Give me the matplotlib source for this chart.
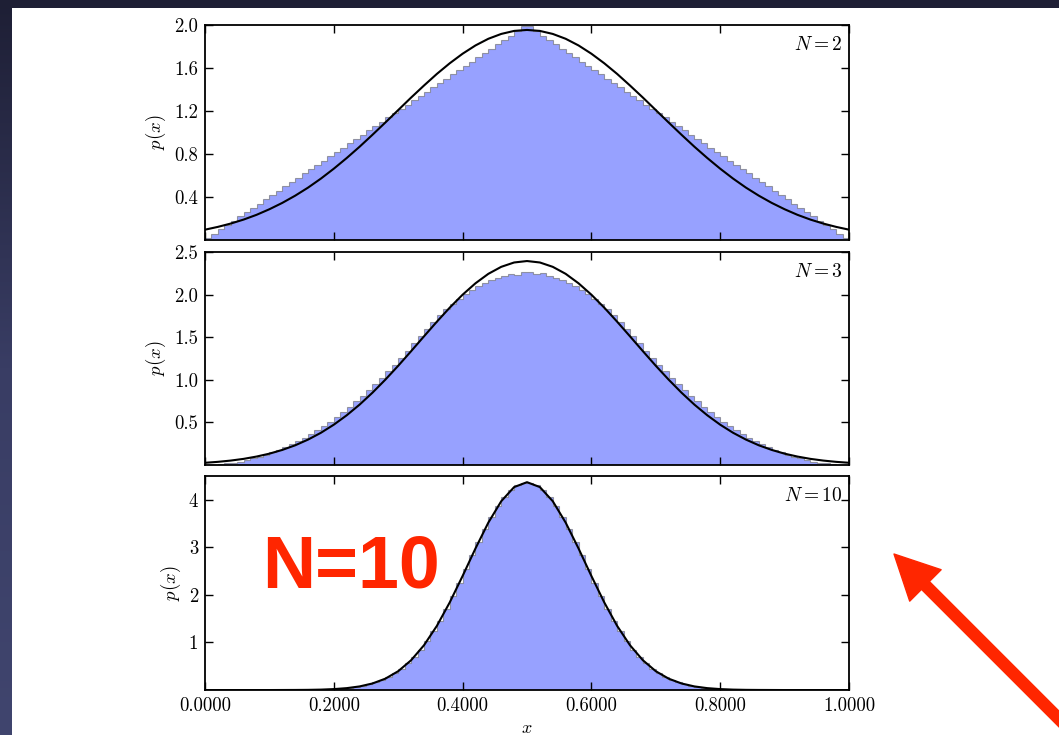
import numpy as np
import matplotlib
matplotlib.use('Agg')
import matplotlib.pyplot as plt
from matplotlib.patches import Rectangle, FancyArrowPatch, ArrowStyle
from matplotlib.colors import LinearSegmentedColormap
from matplotlib.ticker import MultipleLocator, FormatStrFormatter, NullFormatter

plt.rcParams['font.family'] = 'serif'
plt.rcParams['font.serif'] = ['cmr10', 'DejaVu Serif']
plt.rcParams['mathtext.fontset'] = 'cm'
plt.rcParams['axes.unicode_minus'] = False

# histogram heights (100 bins between 0 and 1)
hist_n2 = [0.02, 0.06, 0.10, 0.14, 0.18, 0.22, 0.26, 0.30, 0.34, 0.38,
           0.42, 0.46, 0.50, 0.54, 0.58, 0.62, 0.66, 0.70, 0.74, 0.78,
           0.82, 0.86, 0.90, 0.94, 0.98, 1.02, 1.06, 1.10, 1.14, 1.18,
           1.22, 1.26, 1.30, 1.34, 1.38, 1.42, 1.46, 1.50, 1.54, 1.58,
           1.62, 1.66, 1.70, 1.74, 1.78, 1.82, 1.86, 1.90, 1.94, 1.99,
           1.99, 1.94, 1.90, 1.86, 1.82, 1.78, 1.74, 1.70, 1.66, 1.62,
           1.58, 1.54, 1.50, 1.46, 1.42, 1.38, 1.34, 1.30, 1.26, 1.22,
           1.18, 1.14, 1.10, 1.06, 1.02, 0.98, 0.94, 0.90, 0.86, 0.82,
           0.78, 0.74, 0.70, 0.66, 0.62, 0.58, 0.54, 0.50, 0.46, 0.42,
           0.38, 0.34, 0.30, 0.26, 0.22, 0.18, 0.14, 0.10, 0.06, 0.02]

hist_n3 = [0.00, 0.00, 0.01, 0.02, 0.03, 0.04, 0.06, 0.08, 0.10, 0.12,
           0.15, 0.18, 0.21, 0.25, 0.28, 0.32, 0.37, 0.41, 0.46, 0.51,
           0.57, 0.62, 0.68, 0.75, 0.81, 0.88, 0.95, 1.02, 1.10, 1.17,
           1.26, 1.34, 1.43, 1.51, 1.60, 1.68, 1.76, 1.83, 1.89, 1.95,
           2.01, 2.05, 2.10, 2.14, 2.17, 2.20, 2.22, 2.24, 2.23, 2.26,
           2.27, 2.24, 2.25, 2.22, 2.20, 2.17, 2.14, 2.10, 2.05, 2.01,
           1.95, 1.89, 1.83, 1.76, 1.68, 1.60, 1.51, 1.43, 1.34, 1.26,
           1.17, 1.10, 1.02, 0.95, 0.88, 0.81, 0.75, 0.68, 0.62, 0.57,
           0.51, 0.46, 0.41, 0.37, 0.32, 0.28, 0.25, 0.21, 0.18, 0.15,
           0.12, 0.10, 0.08, 0.06, 0.04, 0.03, 0.02, 0.01, 0.00, 0.00]

hist_n10 = [0.00, 0.00, 0.00, 0.00, 0.00, 0.00, 0.00, 0.00, 0.00, 0.00,
            0.00, 0.00, 0.00, 0.00, 0.00, 0.00, 0.01, 0.01, 0.01, 0.02,
            0.02, 0.03, 0.05, 0.06, 0.09, 0.12, 0.16, 0.21, 0.27, 0.35,
            0.45, 0.56, 0.70, 0.85, 1.03, 1.24, 1.46, 1.71, 1.98, 2.26,
            2.54, 2.83, 3.12, 3.39, 3.64, 3.87, 4.06, 4.21, 4.31, 4.36,
            4.36, 4.31, 4.21, 4.06, 3.87, 3.64, 3.39, 3.12, 2.83, 2.54,
            2.26, 1.98, 1.71, 1.46, 1.24, 1.03, 0.85, 0.70, 0.56, 0.45,
            0.35, 0.27, 0.21, 0.16, 0.12, 0.09, 0.06, 0.05, 0.03, 0.02,
            0.02, 0.01, 0.01, 0.01, 0.00, 0.00, 0.00, 0.00, 0.00, 0.00,
            0.00, 0.00, 0.00, 0.00, 0.00, 0.00, 0.00, 0.00, 0.00, 0.00]

# gaussian curve values at x = 0, 0.02, ..., 1.0
curve_n2 = [0.097, 0.123, 0.154, 0.191, 0.235, 0.287, 0.346, 0.413, 0.488, 0.572,
            0.664, 0.763, 0.868, 0.979, 1.093, 1.209, 1.325, 1.437, 1.545, 1.644,
            1.733, 1.810, 1.872, 1.917, 1.945, 1.954, 1.945, 1.917, 1.872, 1.810,
            1.733, 1.644, 1.545, 1.437, 1.325, 1.209, 1.093, 0.979, 0.868, 0.763,
            0.664, 0.572, 0.488, 0.413, 0.346, 0.287, 0.235, 0.191, 0.154, 0.123,
            0.097]
curve_n3 = [0.027, 0.038, 0.053, 0.073, 0.100, 0.134, 0.178, 0.232, 0.299, 0.379,
            0.474, 0.584, 0.709, 0.849, 1.002, 1.165, 1.336, 1.510, 1.682, 1.847,
            1.999, 2.133, 2.244, 2.326, 2.377, 2.394, 2.377, 2.326, 2.244, 2.133,
            1.999, 1.847, 1.682, 1.510, 1.336, 1.165, 1.002, 0.849, 0.709, 0.584,
            0.474, 0.379, 0.299, 0.232, 0.178, 0.134, 0.100, 0.073, 0.053, 0.038,
            0.027]
curve_n10 = [0.000, 0.000, 0.000, 0.000, 0.000, 0.000, 0.001, 0.002, 0.004, 0.009,
             0.020, 0.040, 0.076, 0.138, 0.239, 0.396, 0.626, 0.941, 1.348, 1.842,
             2.398, 2.977, 3.521, 3.970, 4.267, 4.370, 4.267, 3.970, 3.521, 2.977,
             2.398, 1.842, 1.348, 0.941, 0.626, 0.396, 0.239, 0.138, 0.076, 0.040,
             0.020, 0.009, 0.004, 0.002, 0.001, 0.000, 0.000, 0.000, 0.000, 0.000,
             0.000]

n_labels = [2, 3, 10]
y_tops = [2.0, 2.5, 4.5]
y_steps = [0.4, 0.5, 1.0]

edges = np.linspace(0, 1, 101)
centers = (edges[:-1] + edges[1:]) / 2
x_pdf = np.linspace(0, 1, 51)

W, H = 1059, 735
fig = plt.figure(figsize=(W / 100, H / 100), dpi=100)

# slide background + white picture area
bg = fig.add_axes([0, 0, 1, 1], zorder=-10)
grad = np.linspace(0, 1, 256).reshape(-1, 1)
cmap = LinearSegmentedColormap.from_list('bg', ['#1e1f35', '#393d64', '#40456e'])
bg.imshow(grad, extent=(0, W, H, 0), aspect='auto', cmap=cmap)
bg.add_patch(Rectangle((12, 8), W, H, facecolor='white', edgecolor='none'))
bg.set_xlim(0, W)
bg.set_ylim(H, 0)
bg.axis('off')

# panel boxes in pixels: (top, bottom)
boxes = [(25, 240), (252, 465), (476, 690)]
left, right = 205, 849
hists = [hist_n2, hist_n3, hist_n10]
curves = [curve_n2, curve_n3, curve_n10]

for i, (top, bot) in enumerate(boxes):
    ax = fig.add_axes([left / W, 1 - bot / H, (right - left) / W, (bot - top) / H])
    ax.hist(centers, bins=edges, weights=hists[i], histtype='stepfilled',
            facecolor='#97a1ff', edgecolor=(0.4, 0.4, 0.4, 0.6), linewidth=0.8)
    ax.plot(x_pdf, curves[i], '-k', lw=1.5)
    ax.set_xlim(0, 1)
    ax.set_ylim(0.001, y_tops[i])
    ax.xaxis.set_major_locator(MultipleLocator(0.2))
    ax.yaxis.set_major_locator(MultipleLocator(y_steps[i]))
    ax.tick_params(direction='in', top=True, right=True, length=6, width=1,
                   labelsize=13.5, pad=5)
    for sp in ax.spines.values():
        sp.set_linewidth(1.3)
    ax.text(0.99, 0.95, r'$N = %i$' % n_labels[i], ha='right', va='top',
            transform=ax.transAxes, fontsize=14)
    ax.set_ylabel(r'$p(x)$', fontsize=13.5)
    if i == len(boxes) - 1:
        ax.xaxis.set_major_formatter(FormatStrFormatter('%.4f'))
        ax.set_xlabel(r'$x$', fontsize=13, labelpad=4)
    else:
        ax.xaxis.set_major_formatter(NullFormatter())

# red annotation
fig.text(262 / W, 1 - 588 / H, 'N=10', family=['Liberation Sans', 'DejaVu Sans'],
         weight='bold', fontsize=53, color='#ff2600', ha='left', va='baseline')
bg.add_patch(FancyArrowPatch((1100, 760), (894, 554),
                             arrowstyle=ArrowStyle.Simple(head_length=32, head_width=32, tail_width=8),
                             mutation_scale=1, color='#ff2600', shrinkA=0, shrinkB=0))

fig.savefig('out.png', dpi=100)
